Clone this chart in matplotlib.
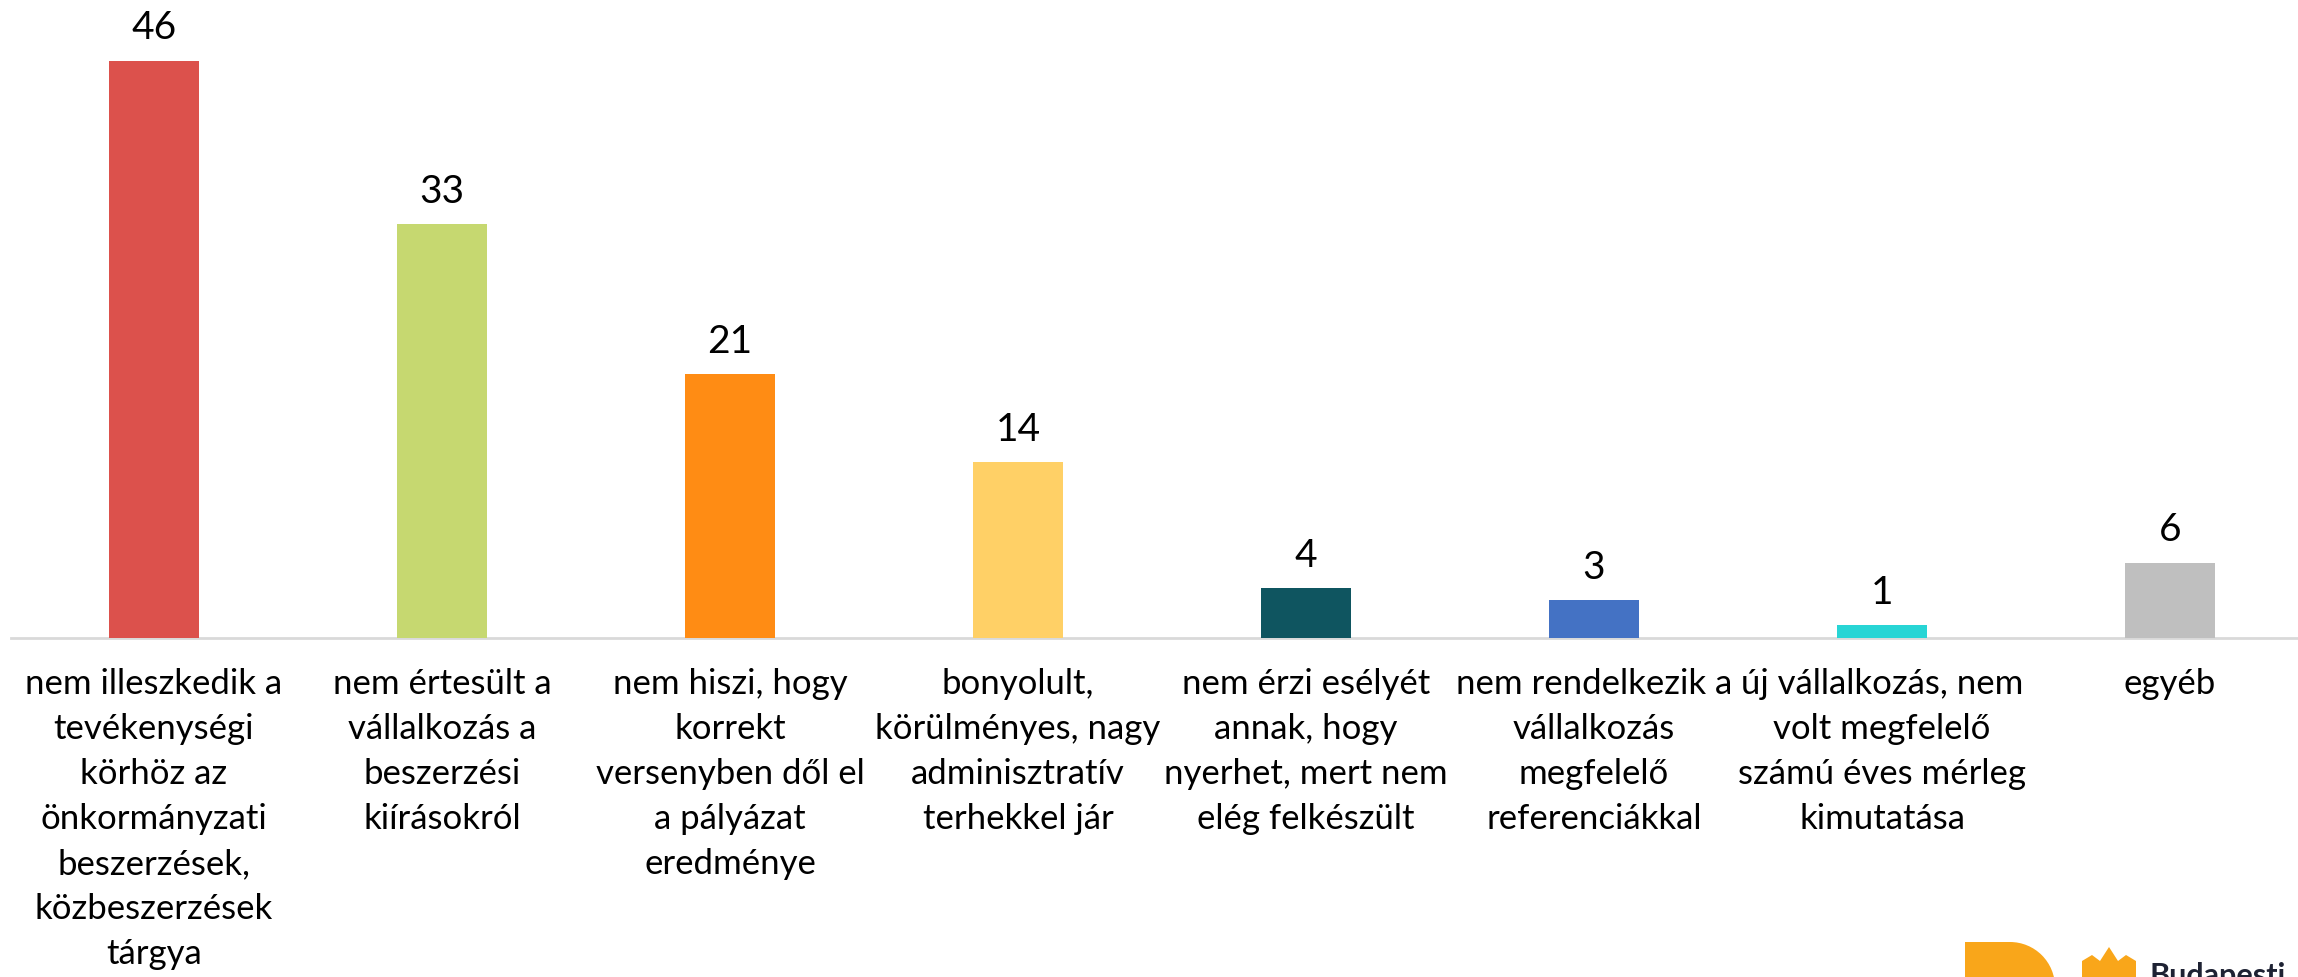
import matplotlib.pyplot as plt
from matplotlib.patches import Rectangle, Wedge, Polygon

plt.rcParams['font.family'] = ['Lato', 'DejaVu Sans']

# chart data
categories = [
    "nem illeszkedik a\ntevékenységi\nkörhöz az\nönkormányzati\nbeszerzések,\nközbeszerzések\ntárgya",
    "nem értesült a\nvállalkozás a\nbeszerzési\nkiírásokról",
    "nem hiszi, hogy\nkorrekt\nversenyben dől el\na pályázat\neredménye",
    "bonyolult,\nkörülményes, nagy\nadminisztratív\nterhekkel jár",
    "nem érzi esélyét\nannak, hogy\nnyerhet, mert nem\nelég felkészült",
    "nem rendelkezik a\nvállalkozás\nmegfelelő\nreferenciákkal",
    "új vállalkozás, nem\nvolt megfelelő\nszámú éves mérleg\nkimutatása",
    "egyéb",
]
values = [46, 33, 21, 14, 4, 3, 1, 6]
colors = ['#DC514C', '#C6D870', '#FF8C14', '#FFD066',
          '#0F5560', '#4472C4', '#28D5D5', '#BFBFBF']

W, H = 2298, 978
fig = plt.figure(figsize=(W / 100, H / 100), dpi=100)
ax = fig.add_axes([0, 1 - 639 / H, 1, 639 / H])

x = list(range(len(values)))
ax.bar(x, values, width=0.31, color=colors, zorder=2)

# axes span in category units (first centre at 154 px, step 288 px)
ax.set_xlim(-154 / 288, (W - 154) / 288)
ax.set_ylim(0, 639 / 12.55)
ax.plot([-0.495, 7.6], [0, 0], color='#D9D9D9', lw=2, zorder=1, clip_on=False)

for xi, v in zip(x, values):
    ax.annotate(str(v), (xi, v), xytext=(0, 16), textcoords='offset points',
                ha='center', va='baseline', fontsize=28, color='black')

for xi, lab in zip(x, categories):
    ax.annotate(lab, (xi, 0), xytext=(0, -21), textcoords='offset points',
                ha='center', va='top', fontsize=25, linespacing=1.5,
                color='black', annotation_clip=False)

ax.axis('off')

# partial logo in the corner
ox = fig.add_axes([0, 0, 1, 1], zorder=-1)
ox.set_xlim(0, W)
ox.set_ylim(H, 0)
ox.axis('off')
orange = '#F9A61A'
ox.add_patch(Rectangle((1965, 943), 46, 40, color=orange, lw=0))
ox.add_patch(Wedge((2010, 988), 45, 270, 360, color=orange, lw=0))
ox.add_patch(Polygon([(2082, 990), (2082, 962), (2092, 956), (2100, 962),
                      (2109, 948), (2118, 962), (2126, 956), (2136, 962),
                      (2136, 990)], closed=True, color=orange, lw=0))
ox.text(2150, 962, 'Budapesti', fontsize=22, fontweight='bold',
        color='#1E2233', va='top', ha='left')

fig.savefig('out.png', dpi=100)
